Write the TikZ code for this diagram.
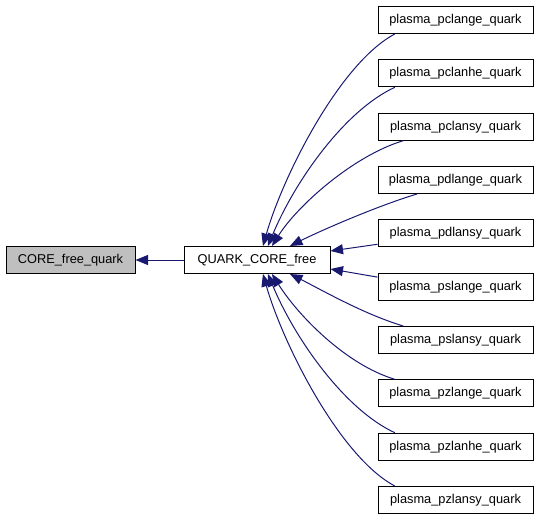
\documentclass[tikz,border=0pt]{standalone}
\usepackage{fontspec}
\setmainfont{Liberation Sans}
\usepackage{tikz}
\usetikzlibrary{arrows.meta,positioning}

\definecolor{edgeblue}{HTML}{191970}
\definecolor{nodegray}{HTML}{BFBFBF}

\tikzset{
    fnbox/.style={draw=black, line width=1pt, fill=white, minimum height=27pt, inner sep=0pt,
        font=\fontsize{12.8}{15}\selectfont},
    callbox/.style={fnbox, minimum width=155pt},
    calledge/.style={draw=edgeblue, line width=1pt, -{Triangle[length=12.5pt,width=10pt]}}
}

\begin{document}
\begin{tikzpicture}[x=1pt,y=-1pt]
    \useasboundingbox (0,0) rectangle (539,520);

    % Function nodes (left and middle)
    \node[fnbox, fill=nodegray, minimum width=129pt] (core) at (70.5,260) {CORE\_free\_quark};
    \node[fnbox, minimum width=146pt] (qcore) at (257,260) {QUARK\_CORE\_free};

    % Callers (right column)
    \node[callbox] (pcla) at (455.5,20)    {plasma\_pclange\_quark};
    \node[callbox] (pclh) at (455.5,73.3)  {plasma\_pclanhe\_quark};
    \node[callbox] (pcls) at (455.5,126.7) {plasma\_pclansy\_quark};
    \node[callbox] (pdla) at (455.5,180)   {plasma\_pdlange\_quark};
    \node[callbox] (pdls) at (455.5,233.3) {plasma\_pdlansy\_quark};
    \node[callbox] (psla) at (455.5,286.7) {plasma\_pslange\_quark};
    \node[callbox] (psls) at (455.5,340)   {plasma\_pslansy\_quark};
    \node[callbox] (pzla) at (455.5,393.3) {plasma\_pzlange\_quark};
    \node[callbox] (pzlh) at (455.5,446.7) {plasma\_pzlanhe\_quark};
    \node[callbox] (pzls) at (455.5,500)   {plasma\_pzlansy\_quark};

    % Call edges
    \draw[calledge] (qcore.west) -- (core.east);
    \draw[calledge] (pcla.193) .. controls +(-55,29) and +(20,-70) .. (qcore.67);
    \draw[calledge] (pclh.193) .. controls +(-50,23) and +(27,-65) .. (qcore.52);
    \draw[calledge] (pcls.195) .. controls +(-50,15) and +(25,-40) .. (qcore.43);
    \draw[calledge] (pdla.200) .. controls +(-40,12) and +(30,-15) .. (qcore.23);
    \draw[calledge] (pdls.188) -- (qcore.7);
    \draw[calledge] (psla.173) -- (qcore.-7);
    \draw[calledge] (psls.165) .. controls +(-40,-12) and +(30,15) .. (qcore.-23);
    \draw[calledge] (pzla.167) .. controls +(-50,-15) and +(25,40) .. (qcore.-43);
    \draw[calledge] (pzlh.167) .. controls +(-50,-23) and +(27,65) .. (qcore.-52);
    \draw[calledge] (pzls.167) .. controls +(-55,-29) and +(20,70) .. (qcore.-67);
\end{tikzpicture}
\end{document}
